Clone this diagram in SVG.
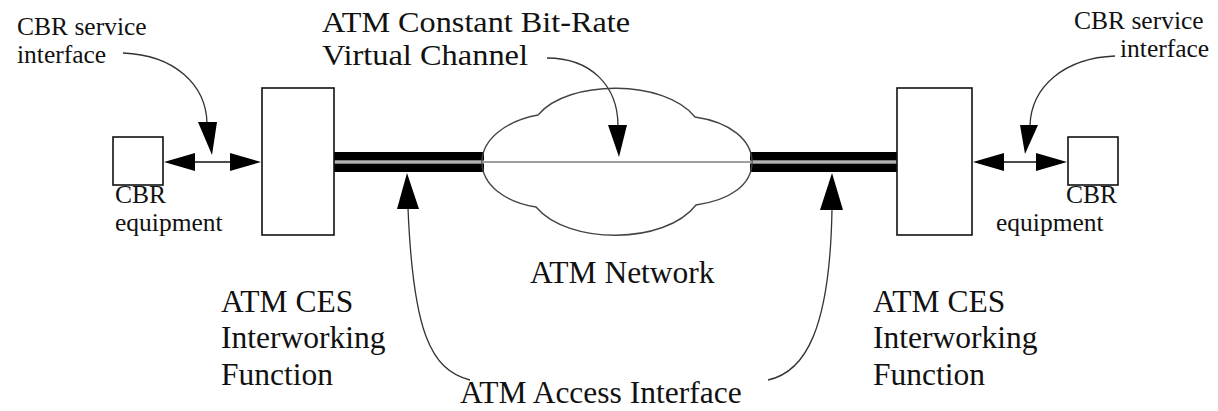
<svg xmlns="http://www.w3.org/2000/svg" width="1218" height="411" viewBox="0 0 1218 411">
<style>
text{font-family:"Liberation Serif","Times New Roman",serif;fill:#111}
.big{font-size:31.5px}
.hd{font-size:29.5px}
.sm{font-size:25.5px}
.box{fill:#fff;stroke:#111;stroke-width:1.6}
.lead{fill:none;stroke:#333;stroke-width:1.3}
.head{fill:#000}
.bar{fill:#000}
</style>
<rect width="1218" height="411" fill="#fff"/>
<g id="connectors">
  <rect class="bar" x="334" y="152" width="150" height="8.5"/>
  <rect class="bar" x="334" y="163.5" width="150" height="8.5"/>
  <rect class="bar" x="750" y="152" width="147" height="8.5"/>
  <rect class="bar" x="750" y="163.5" width="147" height="8.5"/>
  <line x1="334" y1="162" x2="897" y2="162" stroke="#999" stroke-width="1.5"/>
  <line x1="180" y1="162" x2="245" y2="162" stroke="#111" stroke-width="1.6"/>
  <polygon class="head" points="164,162 195,153 195,171"/>
  <polygon class="head" points="261,162 230,153 230,171"/>
  <line x1="990" y1="162" x2="1050" y2="162" stroke="#111" stroke-width="1.6"/>
  <polygon class="head" points="973,162 1004,153 1004,171"/>
  <polygon class="head" points="1067,162 1036,153 1036,171"/>
  <path class="lead" d="M123 53 C175 55 206 85 207 123"/>
  <polygon class="head" points="198,122 217,122 212,155"/>
  <path class="lead" d="M1115 56 C1065 58 1031 86 1030 126"/>
  <polygon class="head" points="1020,125 1038,125 1025,154"/>
  <path class="lead" d="M547 58 C590 58 618 85 618 126"/>
  <polygon class="head" points="608,125 627,125 619,157"/>
  <path class="lead" d="M470 380 C430 370 413 330 408 208"/>
  <polygon class="head" points="397,209 419,209 407,173"/>
  <path class="lead" d="M768 380 C805 372 830 330 832 209"/>
  <polygon class="head" points="820,210 843,210 832,173"/>
</g>
<g id="cloud">
  <path d="M482 162 C482 140 505 121 538 115 C568 79 665 79 695 117 C730 122 752 140 752 162 C752 185 730 200 696 205 C665 245 568 245 536 207 C505 202 482 185 482 162 Z" fill="none" stroke="#444" stroke-width="1.4"/>
  <line x1="482" y1="162" x2="752" y2="162" stroke="#999" stroke-width="1.5"/>
  <text class="big" x="530" y="283">ATM Network</text>
</g>
<g id="cbr-left">
  <rect class="box" x="113" y="137" width="50" height="48"/>
  <text class="sm" x="115" y="203">CBR</text>
  <text class="sm" x="115" y="231">equipment</text>
</g>
<g id="iwf-left">
  <rect class="box" x="262" y="88" width="72" height="147"/>
  <text class="big" x="221" y="312">ATM CES</text>
  <text class="big" x="221" y="348">Interworking</text>
  <text class="big" x="221" y="385">Function</text>
</g>
<g id="iwf-right">
  <rect class="box" x="897" y="88" width="75" height="147"/>
  <text class="big" x="873" y="312">ATM CES</text>
  <text class="big" x="873" y="348">Interworking</text>
  <text class="big" x="873" y="385">Function</text>
</g>
<g id="cbr-right">
  <rect class="box" x="1068" y="137" width="50" height="48"/>
  <text class="sm" x="1066" y="203">CBR</text>
  <text class="sm" x="996" y="231">equipment</text>
</g>
<g id="labels">
  <text class="sm" x="17" y="35">CBR service</text>
  <text class="sm" x="17" y="63">interface</text>
  <text class="sm" x="1074" y="29">CBR service</text>
  <text class="sm" x="1120" y="57">interface</text>
  <text class="hd" x="322" y="32" textLength="308" lengthAdjust="spacingAndGlyphs">ATM Constant Bit-Rate</text>
  <text class="hd" x="322" y="65" textLength="206" lengthAdjust="spacingAndGlyphs">Virtual Channel</text>
  <text class="big" x="460" y="403">ATM Access Interface</text>
</g>
</svg>
